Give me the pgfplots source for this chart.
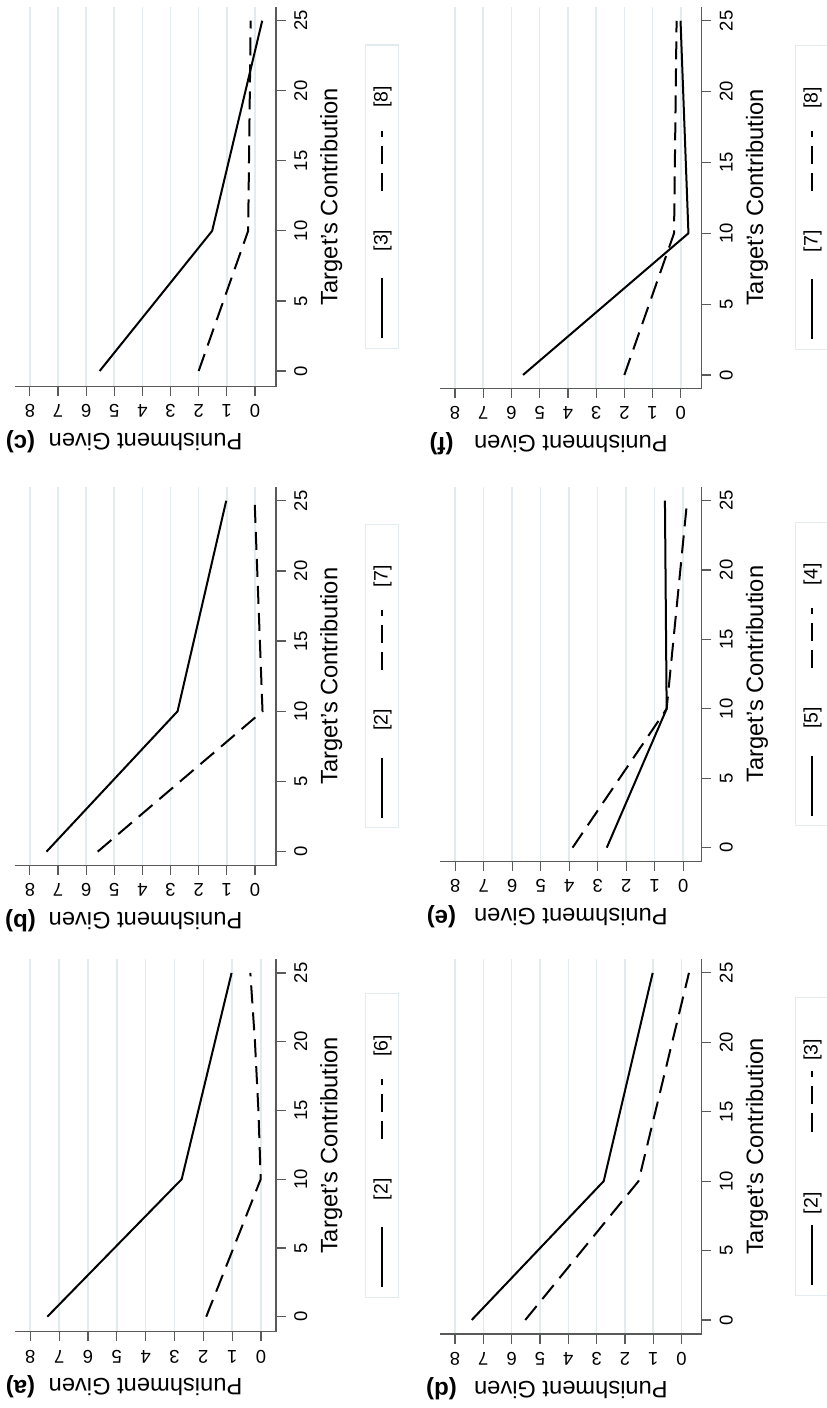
\documentclass[border=0pt]{standalone}
\usepackage{fontspec}
\setmainfont{Liberation Sans}
\usepackage{graphicx}
\usepackage{pgfplots}
\usepackage{pgfplotstable}
\pgfplotsset{compat=1.18}

\definecolor{gridc}{RGB}{226,236,239}
\definecolor{axc}{RGB}{90,90,90}

% Fitted punishment by target's contribution, one table per group
\pgfplotstableread{
x y
0 7.41
10 2.75
25 1.02
}\sTwo
\pgfplotstableread{
x y
0 5.52
10 1.52
25 -0.26
}\sThree
\pgfplotstableread{
x y
0 3.88
10 0.58
25 -0.14
}\sFour
\pgfplotstableread{
x y
0 2.68
10 0.58
25 0.64
}\sFive
\pgfplotstableread{
x y
0 1.90
10 0.01
15 0.09
20 0.21
25 0.37
}\sSix
\pgfplotstableread{
x y
0 5.59
10 -0.27
25 0.01
}\sSeven
\pgfplotstableread{
x y
0 2.00
10 0.24
25 0.15
}\sEight

\pgfplotsset{
  panel/.style={
    scale only axis,
    axis x line*=bottom, axis y line*=left,
    axis line style={axc, line width=0.6bp},
    tick style={axc, line width=0.6bp},
    tick align=outside,
    major tick length=4.75bp,
    xtick={0,5,...,25}, ytick={0,1,...,8},
    xmax=26, ymax=8.53,
    ymajorgrids,
    major grid style={gridc, line width=0.8bp},
    /pgf/number format/assume math mode=true,
    tick label style={font=\fontsize{9.25bp}{10bp}\selectfont},
    xticklabel style={anchor=base, inner sep=0pt, yshift=-10.75bp},
    yticklabel style={rotate=90, anchor=base, inner sep=0pt, yshift=4.4bp},
    xlabel={Target's Contribution},
    ylabel={Punishment Given},
    every axis x label/.style={at={([yshift=-30.65bp]axis description cs:0.5,0)},
      anchor=base, inner sep=0pt, font=\fontsize{11.85bp}{14bp}\selectfont},
    every axis y label/.style={at={([xshift=-23.5bp]axis description cs:0,0.5)},
      rotate=90, anchor=base, inner sep=0pt, font=\fontsize{11.85bp}{14bp}\selectfont},
    legend columns=2,
    legend image code/.code={\draw[##1] (0bp,0bp) -- (30bp,0bp);},
    legend style={draw=gridc, line width=0.6bp, fill=white,
      inner xsep=4.5bp, inner ysep=4bp,
      font=\fontsize{9.75bp}{11bp}\selectfont,
      nodes={inner sep=0pt},
      /tikz/column 1/.style={column sep=13bp},
      /tikz/column 2/.style={column sep=19bp},
      /tikz/column 3/.style={column sep=11bp}},
  },
  toprow/.style={
    legend style={at={([yshift=-44.5bp]axis description cs:0.5,0)}, anchor=north},
    every axis title/.style={at={([xshift=-27.5bp,yshift=-2.75bp]axis description cs:0,1)},
      rotate=90, anchor=center, inner sep=0pt, font=\bfseries\fontsize{12bp}{14bp}\selectfont},
  },
  botrow/.style={
    legend style={at={([yshift=-46.65bp]axis description cs:0.5,0)}, anchor=north},
    every axis title/.style={at={([xshift=-27.5bp,yshift=-0.75bp]axis description cs:0,1)},
      rotate=90, anchor=center, inner sep=0pt, font=\bfseries\fontsize{12bp}{14bp}\selectfont},
  },
  solidline/.style={black, line width=1bp},
  dashline/.style={black, line width=1bp, dash pattern=on 9bp off 4.5bp},
}

\begin{document}
\rotatebox{90}{%
\begin{tikzpicture}
\useasboundingbox (0,0) rectangle (704bp,-413.5bp);

% (a)
\begin{axis}[panel, toprow, title={(a)},
  at={(38.15bp,-138bp)}, anchor=south west,
  width=186.25bp, height=130.5bp, xmin=-1.09, ymin=-0.52]
  \addplot[solidline] table {\sTwo};
  \addlegendentry{{[2]}}
  \addplot[dashline] table {\sSix};
  \addlegendentry{{[6]}\hspace*{16bp}}
\end{axis}

% (b)
\begin{axis}[panel, toprow, title={(b)},
  at={(271.15bp,-138bp)}, anchor=south west,
  width=189.5bp, height=130.5bp, xmin=-1.0, ymin=-0.75]
  \addplot[solidline] table {\sTwo};
  \addlegendentry{{[2]}}
  \addplot[dashline] table {\sSeven};
  \addlegendentry{{[7]}\hspace*{16bp}}
\end{axis}

% (c)
\begin{axis}[panel, toprow, title={(c)},
  at={(510.65bp,-138bp)}, anchor=south west,
  width=190bp, height=130.5bp, xmin=-1.12, ymin=-0.75]
  \addplot[solidline] table {\sThree};
  \addlegendentry{{[3]}}
  \addplot[dashline] table {\sEight};
  \addlegendentry{{[8]}\hspace*{16bp}}
\end{axis}

% (d)
\begin{axis}[panel, botrow, title={(d)},
  at={(37bp,-350.85bp)}, anchor=south west,
  width=187.5bp, height=130.85bp, xmin=-1.01, ymin=-0.71,
  legend style={/tikz/column 1/.style={column sep=5bp},
    /tikz/column 2/.style={column sep=30bp},
    /tikz/column 3/.style={column sep=5bp}}]
  \addplot[solidline] table {\sTwo};
  \addlegendentry{{[2]}}
  \addplot[dashline] table {\sThree};
  \addlegendentry{{[3]}\hspace*{16bp}}
\end{axis}

% (e)
\begin{axis}[panel, botrow, title={(e)},
  at={(273.15bp,-350.85bp)}, anchor=south west,
  width=187.5bp, height=130.85bp, xmin=-1.01, ymin=-0.65]
  \addplot[solidline] table {\sFive};
  \addlegendentry{{[5]}}
  \addplot[dashline] table {\sFour};
  \addlegendentry{{[4]}\hspace*{16bp}}
\end{axis}

% (f)
\begin{axis}[panel, botrow, title={(f)},
  at={(509.85bp,-350.85bp)}, anchor=south west,
  width=190.85bp, height=130.85bp, xmin=-0.94, ymin=-0.74]
  \addplot[solidline] table {\sSeven};
  \addlegendentry{{[7]}}
  \addplot[dashline] table {\sEight};
  \addlegendentry{{[8]}\hspace*{16bp}}
\end{axis}
\end{tikzpicture}}
\end{document}
